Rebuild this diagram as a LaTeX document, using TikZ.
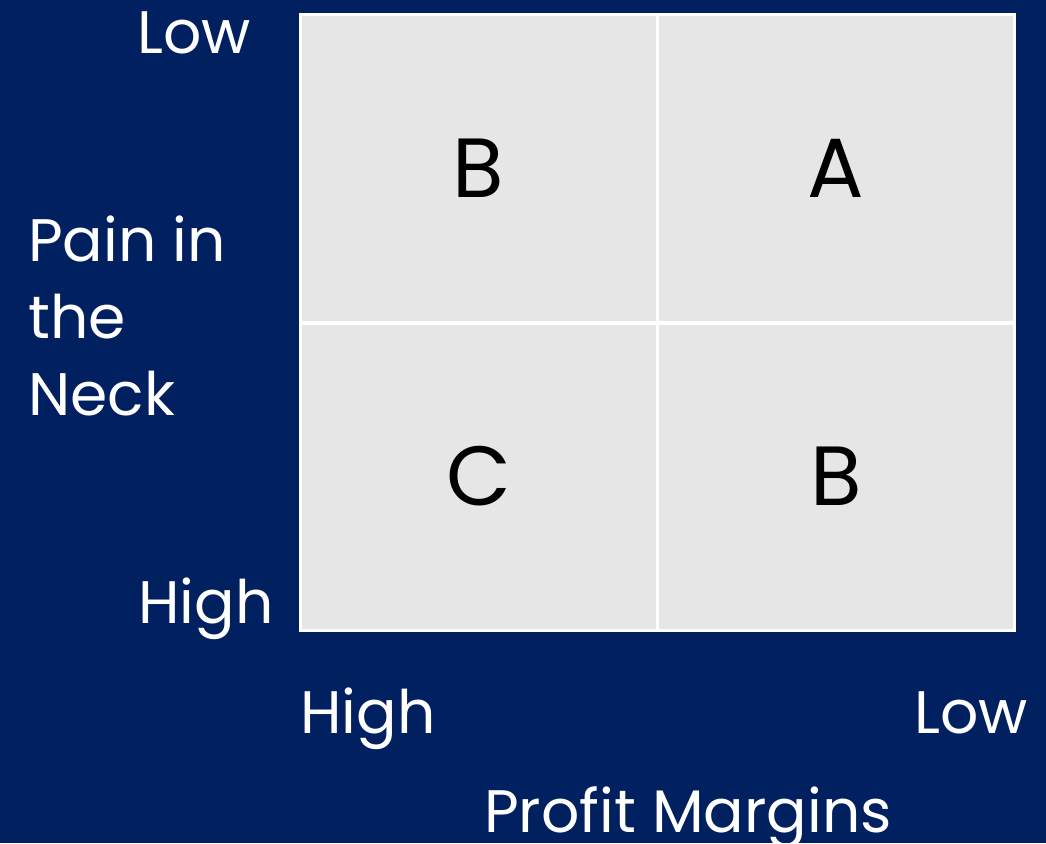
\documentclass[tikz,border=0pt]{standalone}
\usepackage{fontspec}
\setmainfont{Poppins}
\usetikzlibrary{positioning}

\definecolor{navy}{RGB}{0,32,96}
\definecolor{cellgray}{RGB}{230,230,230}

\tikzset{
  cell/.style={draw=white, line width=3pt, fill=cellgray, minimum width=357pt,
    minimum height=307pt, inner sep=0pt, text=black,
    font=\fontsize{84}{100}\selectfont},
  axislabel/.style={text=white, inner sep=0pt, font=\fontsize{60}{77}\selectfont}
}

\begin{document}
\begin{tikzpicture}[x=1pt, y=-1pt]

% Background and page size
\fill[navy] (0,0) rectangle (1046,843);
\useasboundingbox (0,0) rectangle (1046,843);

% The four quadrants
\node[cell] (cellTL) at (478.5,168.5) {B};
\node[cell] (cellTR) at (836,168.5) {A};
\node[cell] (cellBL) at (478.5,476.5) {C};
\node[cell] (cellBR) at (836,476.5) {B};

% Vertical axis labels
\node[axislabel, anchor=base west] (painLow) at (137,54) {Low};
\node[axislabel, anchor=base west] (painHigh) at (138,623) {High};
\node[axislabel, anchor=base west, align=left] (painTitle) at (28,415) {Pain in\\the\\Neck};

% Horizontal axis labels
\node[axislabel, anchor=base west] (profitHigh) at (300,733) {High};
\node[axislabel, anchor=base east] (profitLow) at (1028,733) {Low};
\node[axislabel, anchor=base] (profitTitle) at (688,832) {Profit Margins};

\end{tikzpicture}
\end{document}
